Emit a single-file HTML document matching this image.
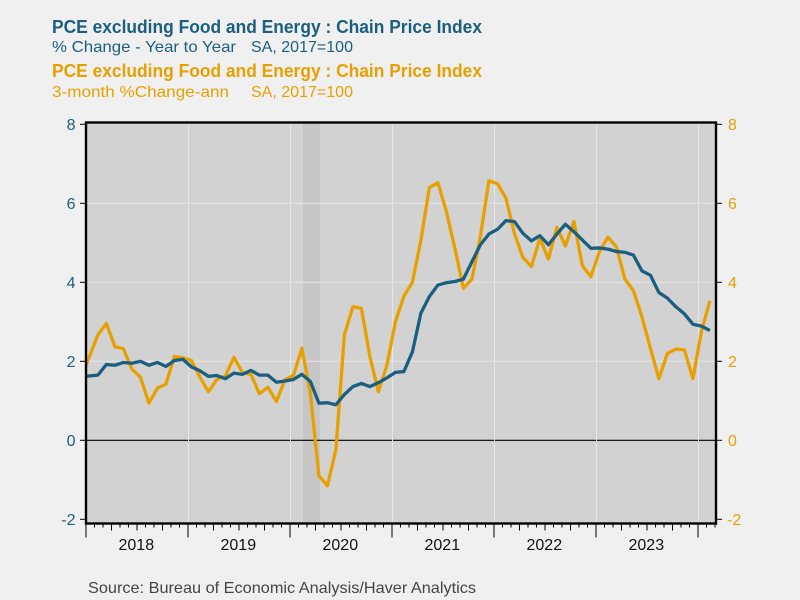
<!DOCTYPE html>
<html lang="en">
<head>
<meta charset="utf-8">
<title>PCE excluding Food and Energy</title>
<style>
html,body{margin:0;padding:0;background:#f0f0f0;}
svg{display:block;font-family:"Liberation Sans",sans-serif;}
</style>
</head>
<body>
<svg id="chart" width="800" height="600" viewBox="0 0 800 600" xmlns="http://www.w3.org/2000/svg">
  <defs><clipPath id="plot-clip"><rect x="86" y="123" width="630" height="400"/></clipPath></defs>
  <rect x="0" y="0" width="800" height="600" fill="#f0f0f0"/>
  <text x="52" y="33" font-size="18" font-weight="bold" fill="#1a5f80" textLength="430" lengthAdjust="spacingAndGlyphs">PCE excluding Food and Energy : Chain Price Index</text>
  <text x="52" y="52" font-size="16" fill="#1a5f80" textLength="184" lengthAdjust="spacingAndGlyphs">% Change - Year to Year</text>
  <text x="251" y="52" font-size="16" fill="#1a5f80" textLength="102" lengthAdjust="spacingAndGlyphs">SA, 2017=100</text>
  <text x="52" y="77" font-size="18" font-weight="bold" fill="#e8a000" textLength="430" lengthAdjust="spacingAndGlyphs">PCE excluding Food and Energy : Chain Price Index</text>
  <text x="52" y="97" font-size="16" fill="#e8a000" textLength="177" lengthAdjust="spacingAndGlyphs">3-month %Change-ann</text>
  <text x="251" y="97" font-size="16" fill="#e8a000" textLength="102" lengthAdjust="spacingAndGlyphs">SA, 2017=100</text>
  <rect x="86" y="123" width="630" height="400" fill="#d2d2d2"/>
  <g id="bands"></g>
  <g id="grid"></g>
  <g id="series" clip-path="url(#plot-clip)"></g>
  <g id="axes"></g>
  <text x="88" y="593" font-size="16" fill="#444444" textLength="388" lengthAdjust="spacingAndGlyphs">Source:  Bureau of Economic Analysis/Haver Analytics</text>
</svg>
<script>
var startYear = 2018;
var yTicks = [8, 6, 4, 2, 0, -2];
var yearLabels = ['2018', '2019', '2020', '2021', '2022', '2023'];
var recessionMonths = [26, 28];
// Monthly values starting Dec 2017
var yoyChange = [1.6,1.63,1.65,1.92,1.9,1.97,1.95,2.0,1.9,1.97,1.87,2.02,2.05,1.86,1.76,1.62,1.64,1.56,1.7,1.67,1.77,1.65,1.65,1.47,1.5,1.54,1.67,1.49,0.94,0.95,0.9,1.16,1.36,1.44,1.36,1.46,1.58,1.72,1.74,2.24,3.22,3.64,3.93,3.99,4.02,4.08,4.52,4.95,5.22,5.34,5.56,5.54,5.24,5.05,5.18,4.95,5.22,5.47,5.28,5.07,4.86,4.87,4.84,4.78,4.76,4.69,4.29,4.18,3.74,3.6,3.38,3.2,2.94,2.89,2.78];
var threeMonthAnn = [1.6,2.12,2.67,2.96,2.37,2.32,1.8,1.6,0.94,1.32,1.42,2.12,2.09,2.02,1.6,1.23,1.54,1.63,2.1,1.72,1.67,1.18,1.34,0.98,1.53,1.64,2.33,1.19,-0.9,-1.15,-0.24,2.67,3.38,3.34,2.12,1.23,1.9,3.0,3.65,4.0,5.07,6.4,6.52,5.79,4.86,3.85,4.08,5.16,6.57,6.5,6.13,5.24,4.63,4.4,5.11,4.59,5.39,4.92,5.54,4.42,4.14,4.78,5.14,4.9,4.08,3.79,3.13,2.33,1.56,2.2,2.31,2.29,1.56,2.75,3.53];

var NS = 'http://www.w3.org/2000/svg';
var BLUE = '#1a5f80', ORANGE = '#e8a000';
var PLOT_LEFT = 86, PLOT_RIGHT = 716, PLOT_TOP = 123, PLOT_BOTTOM = 523.5;
var MONTH_W = 8.5;
function monthEdge(m) { return PLOT_LEFT + m * MONTH_W; }
function xScale(i) { return PLOT_LEFT + (i - 1 + 0.4) * MONTH_W; }
function yScale(v) { return 440.3 - v * 39.5; }
function mk(parentId, tag, attrs, txt) {
  var el = document.createElementNS(NS, tag);
  for (var k in attrs) el.setAttribute(k, attrs[k]);
  if (txt !== undefined) el.textContent = txt;
  document.getElementById(parentId).appendChild(el);
  return el;
}
var el;
// recession band
el = mk('bands', 'rect', {x: monthEdge(recessionMonths[0]) - 4, y: PLOT_TOP, width: (recessionMonths[1] - recessionMonths[0]) * MONTH_W, height: PLOT_BOTTOM - PLOT_TOP, fill: '#c6c6c6'});


// horizontal grid and zero line
yTicks.forEach(function (t) {
  if (t === 8 || t === -2) return;
  var g = mk('grid', 'line', {x1: PLOT_LEFT, x2: PLOT_RIGHT, y1: yScale(t), y2: yScale(t), stroke: t === 0 ? '#000000' : '#e6e6e6', 'stroke-width': t === 0 ? 1.2 : 1});
  
  
});
// vertical grid
yearLabels.forEach(function (y, i) {
  var x = monthEdge((i + 1) * 12) + 0.5;
  var g = mk('grid', 'line', {x1: x, x2: x, y1: PLOT_TOP, y2: PLOT_BOTTOM, stroke: '#e6e6e6', 'stroke-width': 1});
  
  
});
// series
function linePath(vals) {
  return vals.map(function (v, i) { return (i ? 'L' : 'M') + xScale(i).toFixed(2) + ' ' + yScale(v).toFixed(2); }).join('');
}
el = mk('series', 'path', {d: linePath(threeMonthAnn), fill: 'none', stroke: ORANGE, 'stroke-width': 3.3, 'stroke-linejoin': 'round'});


el = mk('series', 'path', {d: linePath(yoyChange), fill: 'none', stroke: BLUE, 'stroke-width': 3.3, 'stroke-linejoin': 'round'});


// frame
el = mk('axes', 'rect', {x: PLOT_LEFT, y: PLOT_TOP - 0.5, width: PLOT_RIGHT - PLOT_LEFT, height: PLOT_BOTTOM - PLOT_TOP + 0.5, fill: 'none', stroke: '#000000', 'stroke-width': 2.4});


// y ticks + labels
yTicks.forEach(function (t) {
  var y = yScale(t);
  var a = mk('axes', 'line', {x1: 80, x2: PLOT_LEFT, y1: y, y2: y, stroke: '#000000', 'stroke-width': 1});
  
  
  var b = mk('axes', 'line', {x1: PLOT_RIGHT, x2: 722, y1: y, y2: y, stroke: '#000000', 'stroke-width': 1});
  
  
  var l = mk('axes', 'text', {x: 75.5, y: y + 5.5, 'font-size': 16, fill: BLUE, 'text-anchor': 'end'}, String(t));
  
  
  var r = mk('axes', 'text', {x: t < 0 ? 727 : 728, y: y + 5.5, 'font-size': 16, fill: ORANGE}, String(t));
  
  
});
// x ticks
for (var m = 0; m <= 74; m++) {
  var len = m % 12 === 0 ? 14 : (m % 3 === 0 ? 7 : 4);
  var tick = mk('axes', 'line', {x1: monthEdge(m), x2: monthEdge(m), y1: PLOT_BOTTOM, y2: PLOT_BOTTOM + len, stroke: '#000000', 'stroke-width': 1});
  
  
}
yearLabels.forEach(function (y, i) {
  var t = mk('axes', 'text', {x: monthEdge(i * 12 + 6) - 0.7, y: 550, 'font-size': 16, fill: '#111111', 'text-anchor': 'middle'}, y);
  
  
});
</script>
</body>
</html>
